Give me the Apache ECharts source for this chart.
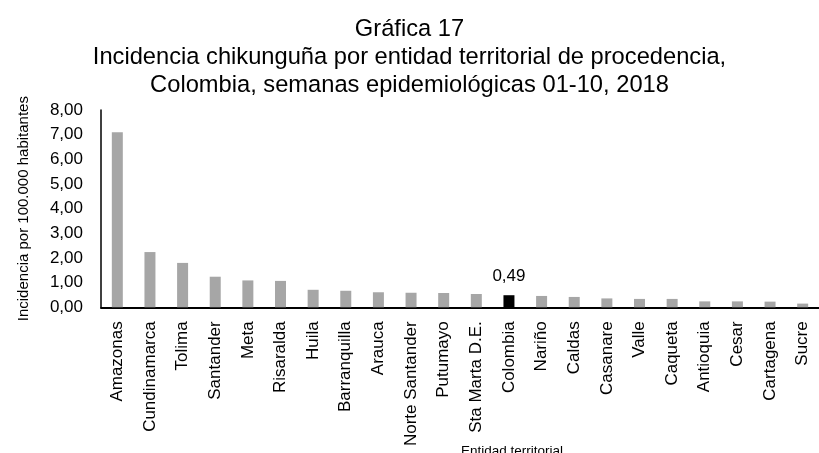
<!DOCTYPE html>
<html><head><meta charset="utf-8">
<script src="https://cdn.jsdelivr.net/npm/echarts@6/dist/echarts.min.js"></script>
<style>html,body{margin:0;padding:0;background:#fff}#c{width:819px;height:453px}</style>
</head><body><div id="c"></div>
<script>
const categories = ["Amazonas","Cundinamarca","Tolima","Santander","Meta","Risaralda","Huila","Barranquilla","Arauca","Norte Santander","Putumayo","Sta Marta D.E.","Colombia","Nariño","Caldas","Casanare","Valle","Caqueta","Antioquia","Cesar","Cartagena","Sucre"];
const values = [7.10,2.24,1.80,1.24,1.09,1.07,0.71,0.67,0.61,0.59,0.58,0.54,0.49,0.46,0.42,0.36,0.34,0.34,0.24,0.24,0.23,0.15];
const highlight = "Colombia";
const yTicks = {min:0, max:8, interval:1};

const SANS = '"Liberation Sans",Arial,sans-serif';
const chart = echarts.init(document.getElementById('c'));
chart.setOption({
  animation:false,
  title:[{
    text:'Gráfica 17\nIncidencia chikunguña por entidad territorial de procedencia,\nColombia, semanas epidemiológicas 01-10, 2018',
    left:'center', top:10,
    textStyle:{fontFamily:SANS, fontSize:23.7, fontWeight:'normal', color:'#000', lineHeight:28}
  },{
    text:'Entidad territorial', left:456, top:439,
    textStyle:{fontFamily:SANS, fontSize:13.5, fontWeight:'normal', color:'#000'}
  }],
  grid:{left:101, top:110, width:721, height:197.3, containLabel:false},
  xAxis:{
    type:'category', data:categories,
    axisLine:{lineStyle:{color:'#000', width:2}},
    axisTick:{show:false},
    axisLabel:{rotate:90, interval:0, fontFamily:SANS, fontSize:17, color:'#000', margin:14}
  },
  yAxis:{
    type:'value', min:yTicks.min, max:yTicks.max, interval:yTicks.interval,
    name:'Incidencia por 100.000 habitantes', nameLocation:'middle', nameGap:70,
    nameTextStyle:{fontFamily:SANS, fontSize:15, color:'#000'},
    axisLine:{show:true, lineStyle:{color:'#000', width:1.5}},
    axisTick:{show:false}, splitLine:{show:false},
    axisLabel:{fontFamily:SANS, fontSize:17, color:'#000', margin:18,
      formatter:v=>v.toFixed(2).replace('.',',')}
  },
  series:[{
    type:'bar', barWidth:11,
    data:categories.map((c,i)=>({value:values[i],
      itemStyle:{color: c===highlight?'#000':'#A6A6A6'},
      label:{show:c===highlight, position:'top', distance:10, fontFamily:SANS, fontSize:17, color:'#000',
        formatter:p=>p.value.toFixed(2).replace('.',',')}
    }))
  }]
});
</script></body></html>
